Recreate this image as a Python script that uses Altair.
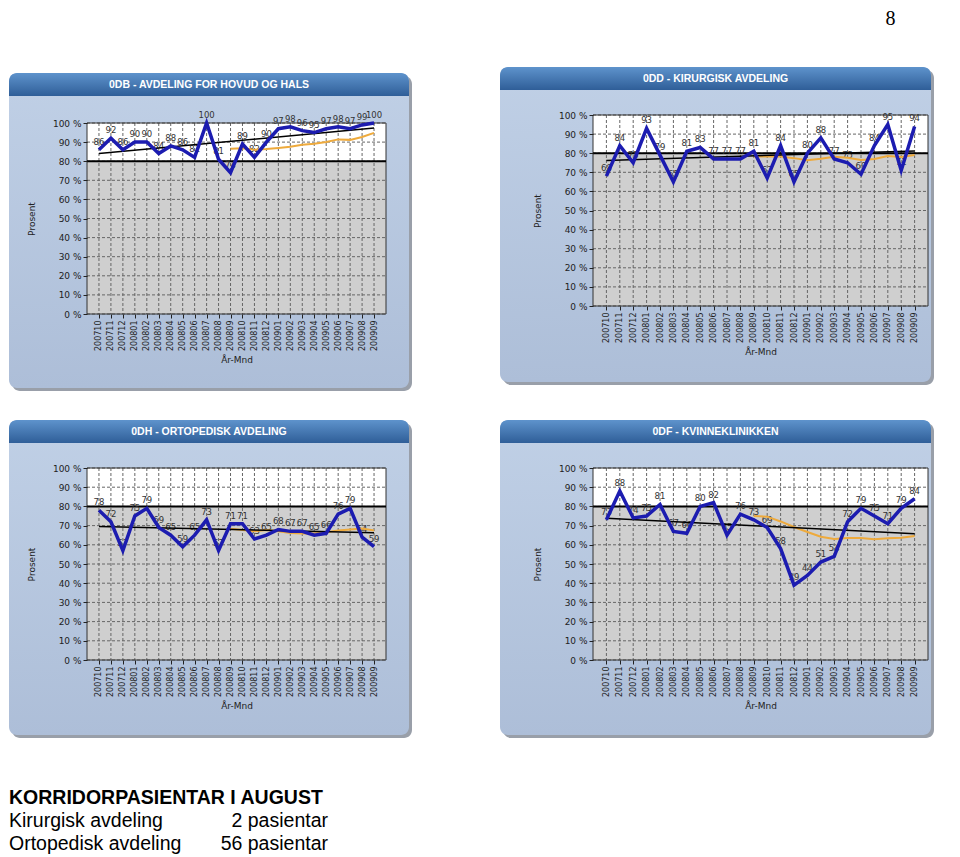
import altair as alt
import pandas as pd

months = ["200710", "200711", "200712", "200801", "200802", "200803", "200804", "200805",
          "200806", "200807", "200808", "200809", "200810", "200811", "200812", "200901",
          "200902", "200903", "200904", "200905", "200906", "200907", "200908", "200909"]

odb = [86, 92, 86, 90, 90, 84, 88, 86, 82, 100, 81, 74, 89, 82, 90, 97, 98, 96, 95, 97, 98, 97, 99, 100]
odd = [68, 84, 75, 93, 79, 65, 81, 83, 77, 77, 77, 81, 67, 84, 65, 80, 88, 77, 75, 69, 84, 95, 71, 94]
odh = [78, 72, 57, 75, 79, 69, 65, 59, 65, 73, 57, 71, 71, 63, 65, 68, 67, 67, 65, 66, 76, 79, 64, 59]
odf = [73, 88, 74, 75, 81, 67, 66, 80, 82, 65, 76, 73, 69, 58, 39, 44, 51, 54, 72, 79, 75, 71, 79, 84]

titles = ["0DB - AVDELING FOR HOVUD OG HALS", "0DD - KIRURGISK AVDELING",
          "0DH - ORTOPEDISK AVDELING", "0DF - KVINNEKLINIKKEN"]
target = 80
y_ticks = list(range(0, 101, 10))

footer_lines = ["KORRIDORPASIENTAR I AUGUST", "Kirurgisk avdeling", "Ortopedisk avdeling"]
footer_counts = ["", "2 pasientar", "56 pasientar"]
page_number = "8"

label_expr = "[" + ",".join("'%s'" % m for m in months) + "][datum.value]"

xscale = alt.Scale(domain=[-1, len(months)], nice=False, zero=False)

xaxis = alt.Axis(values=list(range(len(months))), labelExpr=label_expr, labelAngle=270,
                 labelFontSize=8, labelFont="DejaVu Sans", labelColor="#222222",
                 tickColor="#222222", tickSize=4, domain=False, grid=False,
                 title="År-Mnd", titleFontSize=9, titleFont="DejaVu Sans",
                 titleFontWeight="normal", titleColor="#222222", titlePadding=5,
                 labelPadding=2, labelOverlap=False, zindex=1)
yaxis = alt.Axis(values=y_ticks, labelExpr="datum.value + ' %'", labelFontSize=9,
                 labelFont="DejaVu Sans", labelColor="#222222", tickColor="#222222",
                 tickSize=4, domain=False, grid=False, title="Prosent", titleFontSize=9,
                 titleFont="DejaVu Sans", titleFontWeight="normal", titleColor="#222222",
                 titlePadding=16, zindex=1)


def X(field):
    return alt.X(field, type="quantitative", scale=xscale, axis=xaxis)


one = pd.DataFrame({"a": [0]})

header_grad = alt.Gradient(gradient="linear",
                           stops=[alt.GradientStop(color="#5e93cc", offset=0),
                                  alt.GradientStop(color="#2f5e98", offset=1)],
                           x1=0, x2=0, y1=0, y2=1)
body_grad = alt.Gradient(gradient="linear",
                         stops=[alt.GradientStop(color="#c0d0e6", offset=0),
                                alt.GradientStop(color="#adbed8", offset=1)],
                         x1=0, x2=0, y1=0, y2=1)


def panel(title, values, W, H, fl, fr, ft, fb, top=0, footer=False):
    df = pd.DataFrame({"i": list(range(len(months))), "m": months, "v": values})
    yscale = alt.Scale(domain=[0, 100], nice=False, range=[H + top, top])

    def Y(field):
        return alt.Y(field, type="quantitative", scale=yscale, axis=yaxis)

    T = top
    layers = []
    # shadow + frame
    layers.append(alt.Chart(one).mark_rect(fill="#7f8794", cornerRadius=8, opacity=0.8).encode(
        x=alt.value(fl + 3), x2=alt.value(W + fr + 3), y=alt.value(T + ft + 3), y2=alt.value(T + H + fb + 3)))
    layers.append(alt.Chart(one).mark_rect(fill=body_grad, cornerRadius=8).encode(
        x=alt.value(fl), x2=alt.value(W + fr), y=alt.value(T + ft), y2=alt.value(T + H + fb)))
    layers.append(alt.Chart(one).mark_rect(fill=header_grad, cornerRadiusTopLeft=8,
                                            cornerRadiusTopRight=8).encode(
        x=alt.value(fl), x2=alt.value(W + fr), y=alt.value(T + ft), y2=alt.value(T + ft + 23)))
    layers.append(alt.Chart(one).mark_text(text=title, color="white", fontSize=10.5,
                                            fontWeight="bold", font="Liberation Sans",
                                            baseline="middle", align="center").encode(
        x=alt.value((fl + W + fr) / 2), y=alt.value(T + ft + 12)))
    # plot background: white above target, gray below
    bg = pd.DataFrame({"y": [0, target], "y2": [target, 100], "c": ["#cfcfcf", "#ffffff"]})
    layers.append(alt.Chart(bg).mark_rect().encode(
        x=alt.value(0), x2=alt.value(W), y=Y("y"), y2="y2",
        fill=alt.Fill("c:N", scale=None)))
    # gridlines
    grid_v = pd.DataFrame({"i": list(range(len(months)))})
    layers.append(alt.Chart(grid_v).mark_rule(color="#666666", strokeDash=[3, 2], strokeWidth=1).encode(
        x=X("i"), y=alt.value(T), y2=alt.value(T + H)))
    grid_h = pd.DataFrame({"y": y_ticks})
    layers.append(alt.Chart(grid_h).mark_rule(color="#666666", strokeDash=[3, 2], strokeWidth=1).encode(
        y=Y("y"), x=alt.value(0), x2=alt.value(W)))
    # border
    layers.append(alt.Chart(one).mark_rect(fill="transparent", stroke="#333333", strokeWidth=1).encode(
        x=alt.value(0), x2=alt.value(W), y=alt.value(T), y2=alt.value(T + H)))
    # target line
    layers.append(alt.Chart(pd.DataFrame({"t": [target]})).mark_rule(color="black", strokeWidth=2).encode(
        y=Y("t"), x=alt.value(0), x2=alt.value(W)))
    base = alt.Chart(df)
    # value labels
    layers.append(base.mark_text(dy=-8, fontSize=8.5, font="DejaVu Sans", color="#333333").encode(
        x=X("i"), y=Y("v"), text=alt.Text("v:Q")))
    # moving average (12 months)
    layers.append(base.transform_window(ma="mean(v)", frame=[-11, 0],
                                        sort=[alt.SortField("i")])
                  .transform_filter("datum.i >= 11")
                  .mark_line(color="#eeaa3c", strokeWidth=2).encode(x=X("i"), y=Y("ma")))
    # linear trend
    layers.append(base.transform_regression("i", "v")
                  .mark_line(color="black", strokeWidth=1.5).encode(x=X("i"), y=Y("v")))
    # main series
    layers.append(base.mark_line(color="#1c1cb0", strokeWidth=3.5).encode(x=X("i"), y=Y("v")))
    if footer:
        fl_df = pd.DataFrame({"t": footer_lines, "c": footer_counts, "k": [0, 1, 2]})
        for k in range(3):
            row = fl_df[fl_df.k == k]
            layers.append(alt.Chart(row).mark_text(align="left", baseline="alphabetic", fontSize=19.5,
                                                   font="Liberation Sans",
                                                   fontWeight=("bold" if k == 0 else "normal"),
                                                   color="black").encode(
                x=alt.value(fl), y=alt.value(T + 336 + 23 * k), text="t:N"))
            if footer_counts[k]:
                layers.append(alt.Chart(row).mark_text(align="right", baseline="alphabetic", fontSize=19.5,
                                                       font="Liberation Sans", color="black").encode(
                    x=alt.value(241), y=alt.value(T + 336 + 23 * k), text="c:N"))
    return alt.layer(*layers).properties(width=W, height=H + top)


p1 = panel(titles[0], odb, 299, 191, -78, 23, -50, 74, top=8)
p2 = panel(titles[1], odd, 335, 191, -93, 3, -48, 76)
p3 = panel(titles[2], odh, 299, 192, -78, 23, -48, 75, footer=True)
p4 = panel(titles[3], odf, 335, 192, -93, 3, -48, 75)

row1 = alt.hconcat(p1, p2, spacing=86)
row2 = alt.hconcat(p3, p4, spacing=86)

chart = alt.vconcat(row1, row2, spacing=27).properties(
    padding=0,
    title=alt.TitleParams(page_number, anchor="end", fontSize=20, font="Liberation Serif",
                          fontWeight="normal", color="black", offset=38, dx=-39),
).configure(background="white").configure_view(stroke="transparent")

chart.save("out.html", embed_options={"renderer": "svg", "actions": False})
